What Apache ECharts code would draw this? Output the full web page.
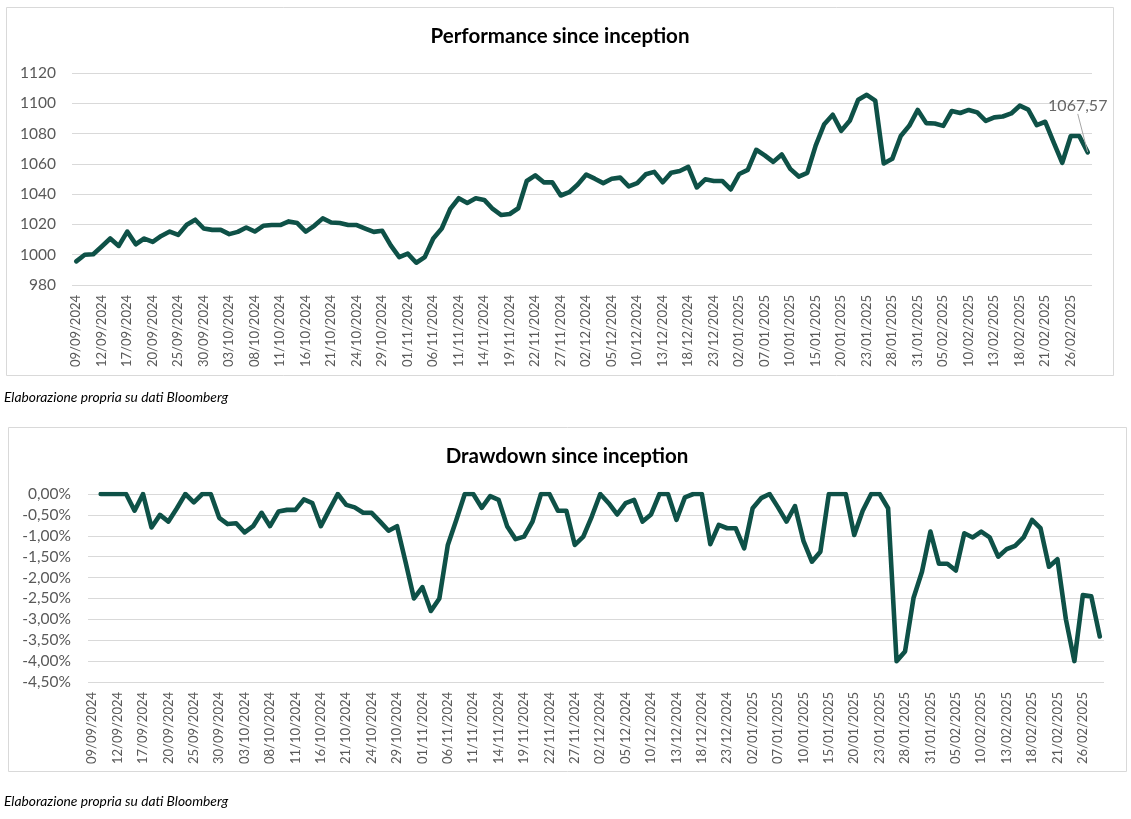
<!DOCTYPE html>
<html><head><meta charset="utf-8">
<script src="https://cdn.jsdelivr.net/npm/echarts@6/dist/echarts.min.js"></script>
<style>html,body{margin:0;padding:0;background:#fff}#c{width:1131px;height:819px}</style>
</head><body><div id="c"></div>
<script>
const categories = [
"09/09/2024","10/09/2024","11/09/2024","12/09/2024","13/09/2024","16/09/2024","17/09/2024","18/09/2024","19/09/2024","20/09/2024",
"23/09/2024","24/09/2024","25/09/2024","26/09/2024","27/09/2024","30/09/2024","01/10/2024","02/10/2024","03/10/2024","04/10/2024",
"07/10/2024","08/10/2024","09/10/2024","10/10/2024","11/10/2024","14/10/2024","15/10/2024","16/10/2024","17/10/2024","18/10/2024",
"21/10/2024","22/10/2024","23/10/2024","24/10/2024","25/10/2024","28/10/2024","29/10/2024","30/10/2024","31/10/2024","01/11/2024",
"04/11/2024","05/11/2024","06/11/2024","07/11/2024","08/11/2024","11/11/2024","12/11/2024","13/11/2024","14/11/2024","15/11/2024",
"18/11/2024","19/11/2024","20/11/2024","21/11/2024","22/11/2024","25/11/2024","26/11/2024","27/11/2024","28/11/2024","29/11/2024",
"02/12/2024","03/12/2024","04/12/2024","05/12/2024","06/12/2024","09/12/2024","10/12/2024","11/12/2024","12/12/2024","13/12/2024",
"16/12/2024","17/12/2024","18/12/2024","19/12/2024","20/12/2024","23/12/2024","27/12/2024","30/12/2024","02/01/2025","03/01/2025",
"06/01/2025","07/01/2025","08/01/2025","09/01/2025","10/01/2025","13/01/2025","14/01/2025","15/01/2025","16/01/2025","17/01/2025",
"20/01/2025","21/01/2025","22/01/2025","23/01/2025","24/01/2025","27/01/2025","28/01/2025","29/01/2025","30/01/2025","31/01/2025",
"03/02/2025","04/02/2025","05/02/2025","06/02/2025","07/02/2025","10/02/2025","11/02/2025","12/02/2025","13/02/2025","14/02/2025",
"17/02/2025","18/02/2025","19/02/2025","20/02/2025","21/02/2025","24/02/2025","25/02/2025","26/02/2025","27/02/2025","28/02/2025"
];

const performance = [
995.6, 1000.0, 1000.3, 1005.4, 1010.7, 1005.8, 1015.3, 1006.9, 1010.7, 1008.4,
1012.4, 1015.3, 1013.1, 1019.8, 1023.1, 1017.3, 1016.4, 1016.4, 1013.6, 1015.1,
1018.0, 1015.3, 1019.1, 1019.6, 1019.6, 1022.0, 1020.9, 1015.3, 1019.1, 1024.0,
1021.3, 1020.9, 1019.6, 1019.6, 1017.3, 1015.1, 1015.8, 1006.2, 998.4, 1000.7,
994.7, 998.4, 1010.7, 1017.3, 1030.2, 1037.3, 1034.2, 1037.3, 1036.2, 1030.2,
1026.2, 1026.9, 1030.7, 1048.7, 1052.4, 1047.8, 1047.8, 1039.1, 1041.3, 1046.4,
1052.9, 1050.2, 1047.3, 1050.2, 1050.9, 1045.1, 1047.3, 1053.1, 1054.7, 1047.8,
1054.2, 1055.3, 1058.0, 1044.4, 1049.8, 1048.7, 1048.7, 1043.1, 1053.3, 1056.0,
1069.3, 1065.6, 1061.3, 1066.2, 1056.7, 1051.6, 1054.0, 1072.2, 1086.2, 1092.4,
1081.8, 1088.4, 1102.4, 1105.6, 1101.8, 1060.2, 1063.3, 1078.4, 1085.1, 1095.6,
1086.9, 1086.7, 1085.1, 1094.9, 1093.6, 1095.6, 1094.0, 1088.4, 1090.7, 1091.3,
1093.3, 1098.4, 1095.8, 1085.6, 1087.8, 1074.0, 1060.7, 1078.4, 1078.4, 1067.57
];

// drawdown in percent
const drawdown = [
null, 0, 0, 0, 0, -0.40, 0, -0.80, -0.50, -0.66,
-0.34, 0, -0.20, 0, 0, -0.57, -0.72, -0.70, -0.92, -0.77,
-0.45, -0.77, -0.42, -0.38, -0.38, -0.13, -0.22, -0.77, -0.38, 0,
-0.26, -0.32, -0.45, -0.45, -0.66, -0.88, -0.77, -1.62, -2.50, -2.23,
-2.80, -2.50, -1.22, -0.62, 0, 0, -0.33, -0.05, -0.14, -0.77,
-1.08, -1.02, -0.66, 0, 0, -0.40, -0.40, -1.22, -1.02, -0.54,
0, -0.22, -0.49, -0.22, -0.14, -0.66, -0.49, 0, 0, -0.62,
-0.08, 0, 0, -1.20, -0.74, -0.82, -0.82, -1.30, -0.34, -0.10,
0, -0.32, -0.66, -0.29, -1.12, -1.62, -1.38, 0, 0, 0,
-0.98, -0.40, 0, 0, -0.34, -4.00, -3.77, -2.49, -1.86, -0.90,
-1.67, -1.67, -1.83, -0.94, -1.04, -0.90, -1.04, -1.50, -1.32, -1.24,
-1.04, -0.62, -0.82, -1.74, -1.56, -3.00, -4.00, -2.42, -2.45, -3.41
];

const titles = ["Performance since inception", "Drawdown since inception"];
const caption = "Elaborazione propria su dati Bloomberg";

const FONT = 'Lato, "Open Sans", sans-serif';
const LINE = '#0E5147';
const GRID = '#d9d9d9';
const TICK = '#595959';
const comma = (v, d) => Number(v).toFixed(d).replace('.', ',');
const last = performance.length - 1;

const chart = echarts.init(document.getElementById('c'));

function xAxis(gi) {
  return {
    type: 'category', gridIndex: gi, data: categories, boundaryGap: true,
    axisLine: {show: false}, axisTick: {show: false}, splitLine: {show: false},
    axisLabel: {interval: 2, rotate: 90, fontSize: 13, color: TICK, margin: 10, fontFamily: FONT}
  };
}

const titleStyle = (t) => ({text: t, font: 'bold 20.5px ' + FONT, fill: '#000',
  align: 'center', verticalAlign: 'middle', textAlign: 'center', textVerticalAlign: 'middle'});
const capStyle = {text: caption, font: 'italic 13.8px ' + FONT, fill: '#000',
  align: 'left', verticalAlign: 'middle', textAlign: 'left', textVerticalAlign: 'middle'};

chart.setOption({
  animation: false,
  backgroundColor: '#fff',
  graphic: [
    {type: 'rect', silent: true, z: -10, shape: {x: 6.5, y: 7.5, width: 1107, height: 368},
     style: {fill: 'none', stroke: GRID, lineWidth: 1}},
    {type: 'rect', silent: true, z: -10, shape: {x: 8.5, y: 427.5, width: 1118, height: 344},
     style: {fill: 'none', stroke: GRID, lineWidth: 1}},
    {type: 'text', x: 560, y: 36, style: titleStyle(titles[0])},
    {type: 'text', x: 567, y: 456, style: titleStyle(titles[1])},
    {type: 'text', x: 4, y: 398, style: capStyle},
    {type: 'text', x: 4, y: 802, style: capStyle}
  ],
  grid: [
    {left: 72, right: 39, top: 73, height: 212},
    {left: 88, right: 27, top: 494, height: 188}
  ],
  xAxis: [xAxis(0), xAxis(1)],
  yAxis: [
    {type: 'value', gridIndex: 0, min: 980, max: 1120, interval: 20,
     axisLine: {show: false}, axisTick: {show: false},
     splitLine: {lineStyle: {color: GRID, width: 1}},
     axisLabel: {fontSize: 15.5, color: TICK, margin: 16, fontFamily: FONT, formatter: v => String(v)}},
    {type: 'value', gridIndex: 1, min: -4.5, max: 0, interval: 0.5,
     axisLine: {show: false}, axisTick: {show: false},
     splitLine: {lineStyle: {color: GRID, width: 1}},
     axisLabel: {fontSize: 15.5, color: TICK, margin: 17, fontFamily: FONT,
       formatter: v => comma(Math.abs(v) < 1e-9 ? 0 : v, 2) + '%'}}
  ],
  series: [
    {type: 'line', xAxisIndex: 0, yAxisIndex: 0, data: performance, showSymbol: false, symbol: 'none',
     lineStyle: {color: LINE, width: 4.6, join: 'round', cap: 'round'}, z: 3},
    {type: 'scatter', xAxisIndex: 0, yAxisIndex: 0, data: [[categories[last], performance[last]]],
     symbolSize: 1, itemStyle: {color: 'rgba(0,0,0,0)'}, z: 4,
     label: {show: true, position: 'top', distance: 5, color: '#404040', fontSize: 16, fontFamily: FONT,
       formatter: p => comma(p.value[1], 2)},
     labelLayout: {dx: -10, dy: -33},
     labelLine: {show: true, lineStyle: {color: '#a6a6a6', width: 1}}},
    {type: 'line', xAxisIndex: 1, yAxisIndex: 1, data: drawdown, showSymbol: false, symbol: 'none',
     connectNulls: false, lineStyle: {color: LINE, width: 4.6, join: 'round', cap: 'round'}, z: 3}
  ]
});
</script>
</body></html>
